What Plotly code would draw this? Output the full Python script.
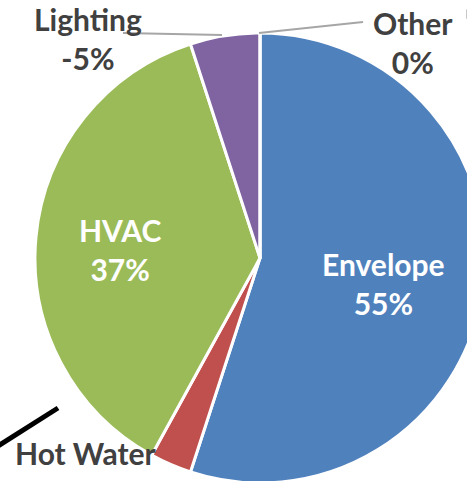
import plotly.graph_objects as go

# ---- data ----
categories = ["Envelope", "Hot Water", "HVAC", "Lighting", "Other"]
values = [55, 3, 37, 5, 0]
label_pct = ["55%", "3%", "37%", "-5%", "0%"]
colors = ["#4F81BD", "#C0504D", "#9BBB59", "#8064A2", "#F79646"]

# ---- layout geometry (pixels in a 520x520 canvas, window shows 467x481) ----
W, H = 520, 520
cx, cy, R = 260, 258, 225

def px(x):
    return x / W

def py(y):
    return 1 - y / H

fig = go.Figure()
fig.add_trace(go.Pie(
    labels=categories,
    values=values,
    sort=False,
    direction="clockwise",
    rotation=0,
    textinfo="none",
    hoverinfo="label+percent",
    marker=dict(colors=colors, line=dict(color="white", width=3)),
    domain=dict(x=[px(cx - R), px(cx + R)], y=[py(cy + R), py(cy - R)]),
    showlegend=False,
))

# label placement (styling, not data)
label_pos = {
    "Envelope": (383, 283, "white"),
    "Hot Water": (86, 472, "#404040"),
    "HVAC": (120, 249, "white"),
    "Lighting": (88, 39, "#404040"),
    "Other": (413, 42, "#404040"),
}
for cat, pct in zip(categories, label_pct):
    x, y, c = label_pos[cat]
    fig.add_annotation(
        x=px(x), y=py(y), xref="paper", yref="paper",
        text=f"{cat}<br>{pct}", showarrow=False,
        xanchor="center", yanchor="middle", align="center",
        font=dict(family="Lato", size=30, color=c, weight="bold"),
    )

leader = dict(color="#A6A6A6", width=2)
fig.add_shape(type="line", xref="paper", yref="paper",
              x0=px(123), y0=py(33), x1=px(222), y1=py(35), line=leader)
fig.add_shape(type="line", xref="paper", yref="paper",
              x0=px(259), y0=py(33), x1=px(363), y1=py(22), line=leader)
fig.add_shape(type="line", xref="paper", yref="paper",
              x0=px(-2), y0=py(446), x1=px(58), y1=py(408),
              line=dict(color="black", width=5))

fig.update_layout(
    width=W, height=H,
    margin=dict(l=0, r=0, t=0, b=0),
    paper_bgcolor="white", plot_bgcolor="white",
)

fig.write_html(
    "out.html",
    post_script="document.body.style.margin='0';document.body.style.overflow='hidden';",
)
